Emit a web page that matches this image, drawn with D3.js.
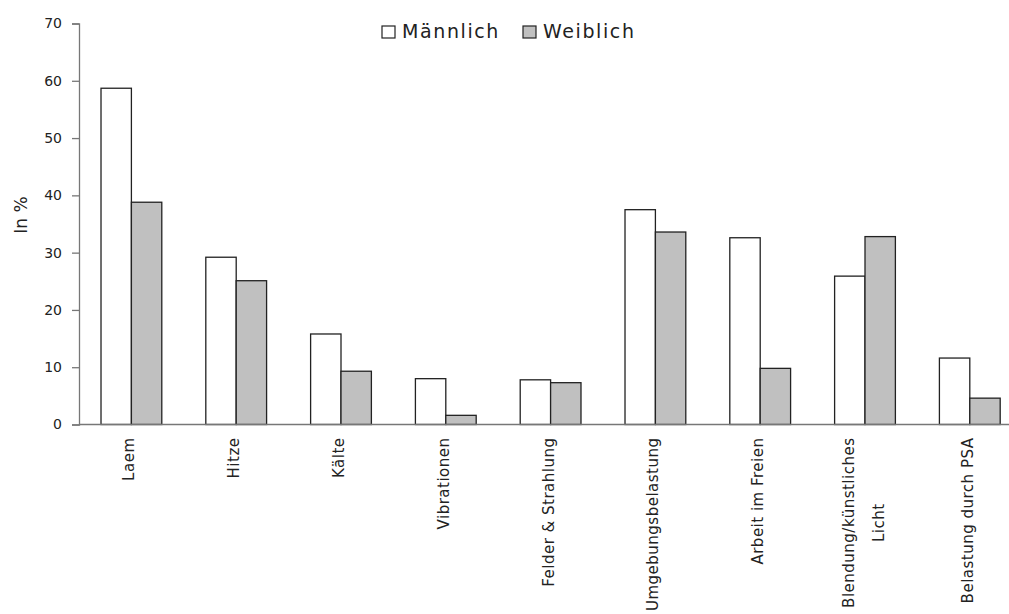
<!DOCTYPE html>
<html><head><meta charset="utf-8">
<script src="https://cdn.jsdelivr.net/npm/d3@7"></script>
<style>body{margin:0;background:#fff;}svg{display:block;font-family:"DejaVu Sans",sans-serif;}</style>
</head><body><svg id="c" width="1009" height="614"></svg>
<script>
const categories = ["Laem","Hitze","Kälte","Vibrationen","Felder & Strahlung","Umgebungsbelastung","Arbeit im Freien","Blendung/künstliches Licht","Belastung durch PSA"];
const categoryLines = [["Laem"],["Hitze"],["Kälte"],["Vibrationen"],["Felder & Strahlung"],["Umgebungsbelastung"],["Arbeit im Freien"],["Blendung/künstliches","Licht"],["Belastung durch PSA"]];
const seriesNames = ["Männlich","Weiblich"];
const maleValues = [58.7, 29.2, 15.8, 8.0, 7.8, 37.5, 32.6, 25.9, 11.6];
const femaleValues = [38.8, 25.1, 9.3, 1.6, 7.3, 33.6, 9.8, 32.8, 4.6];
const yTicks = [0,10,20,30,40,50,60,70];
const yTitle = "In %";

const svg = d3.select("#c");
const x0 = 79, yBase = 424.5, yTop = 23.5;
const x = d3.scaleBand().domain(categories).range([x0, x0 + 9*104.8]).paddingInner(0.42).paddingOuter(0.21);
const xs = d3.scaleBand().domain(seriesNames).range([0, x.bandwidth()]);
const y = d3.scaleLinear().domain([0,70]).range([yBase, yTop]);
const fills = ["#ffffff","#c0c0c0"];
const data = categories.map((c,i)=>({c, vals:[maleValues[i], femaleValues[i]]}));

const g = svg.append("g");
g.selectAll("g.grp").data(data).join("g").attr("class","grp")
 .attr("transform", d=>`translate(${x(d.c)},0)`)
 .selectAll("rect").data(d=>d.vals.map((v,k)=>({v,k})))
 .join("rect")
 .attr("x", d=>xs(seriesNames[d.k]))
 .attr("width", xs.bandwidth())
 .attr("y", d=>y(d.v))
 .attr("height", d=>yBase - y(d.v))
 .attr("fill", d=>fills[d.k])
 .attr("stroke", "#222").attr("stroke-width", 1.3);

// Y axis
const yAxis = svg.append("g").attr("transform",`translate(${x0},0)`)
 .call(d3.axisLeft(y).tickValues(yTicks).tickSize(7).tickPadding(10));
yAxis.select(".domain").attr("stroke","#777").attr("stroke-width",1.3);
yAxis.selectAll(".tick line").attr("stroke","#777").attr("stroke-width",1.3);
yAxis.selectAll("text").attr("font-size","14px").attr("fill","#222").attr("font-family","DejaVu Sans");

// X axis line
svg.append("line").attr("x1",x0).attr("x2",1009).attr("y1",yBase).attr("y2",yBase)
 .attr("stroke","#777").attr("stroke-width",1.5);

// X labels
const fs = 15;
const lab = svg.selectAll("text.xl").data(data).join("text").attr("class","xl")
 .attr("font-size",fs+"px").attr("letter-spacing","0.5px").attr("fill","#222");
lab.each(function(d,i){
  const lines = categoryLines[i];
  const t = d3.select(this);
  const n = lines.length;
  const cx = x(d.c)+x.bandwidth()/2;
  if(n===1){
    t.attr("text-anchor","end")
     .attr("transform",`translate(${cx+3},${yBase+13}) rotate(-90)`)
     .append("tspan").attr("x",0).text(lines[0]);
  } else {
    t.attr("text-anchor","middle");
    const spans = lines.map((ln,j)=>t.append("tspan").attr("x",0).attr("y",(j-(n-1)/2)*30).text(ln));
    const maxLen = d3.max(spans, s=>s.node().getComputedTextLength());
    t.attr("transform",`translate(${cx+3.5},${yBase+13+maxLen/2}) rotate(-90)`);
  }
});

// Y title
svg.append("text").attr("transform","translate(27,215) rotate(-90)")
 .attr("text-anchor","middle").attr("font-size","17px").attr("fill","#222").text(yTitle);

// Legend
const legX = [382, 523];
const leg = svg.selectAll("g.leg").data(seriesNames).join("g").attr("class","leg")
 .attr("transform",(d,i)=>`translate(${legX[i]},26)`);
leg.append("rect").attr("width",13).attr("height",12).attr("fill",(d,i)=>fills[i])
 .attr("stroke","#222").attr("stroke-width",1.2);
leg.append("text").attr("x",20).attr("y",12).attr("font-size","19px")
 .attr("letter-spacing","1.6px").attr("fill","#222").text(d=>d);
</script></body></html>
